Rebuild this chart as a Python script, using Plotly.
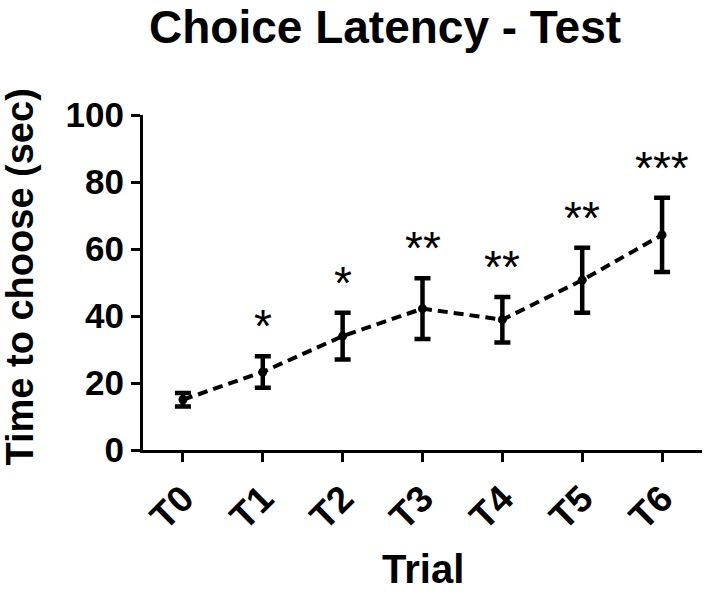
import plotly.graph_objects as go

trials = ["T0", "T1", "T2", "T3", "T4", "T5", "T6"]
mean_latency = [15.0, 23.3, 34.0, 42.2, 38.9, 50.7, 64.2]
sem_latency = [2.0, 4.7, 7.0, 9.1, 6.8, 9.7, 11.1]
significance = ["", "*", "*", "**", "**", "**", "***"]
y_ticks = [0, 20, 40, 60, 80, 100]

FONT = "Liberation Sans, Arial, sans-serif"

fig = go.Figure()
fig.add_trace(go.Scatter(
    x=trials, y=mean_latency,
    mode="lines+markers",
    line=dict(color="black", width=4, dash="10px,6px"),
    marker=dict(color="black", size=9),
    error_y=dict(type="data", array=sem_latency, visible=True,
                 color="black", thickness=4.5, width=8),
    showlegend=False,
))

for t, m, s, sig in zip(trials, mean_latency, sem_latency, significance):
    if sig:
        fig.add_annotation(x=t, y=m + s, text=sig, showarrow=False,
                           yanchor="middle", yshift=30,
                           font=dict(family=FONT, size=46, color="black"))

fig.add_annotation(text="Choice Latency - Test", xref="paper", yref="paper",
                   x=(385 - 143) / (702 - 143), y=1.0, yshift=88,
                   xanchor="center", yanchor="middle", showarrow=False,
                   font=dict(family=FONT, size=46, color="black", weight="bold"))
fig.add_annotation(text="Time to choose (sec)", xref="paper", yref="paper",
                   x=0, xshift=-124, y=0.5, yshift=5, textangle=-90,
                   xanchor="center", yanchor="middle", showarrow=False,
                   font=dict(family=FONT, size=38, color="black", weight="bold"))
fig.add_annotation(text="Trial", xref="paper", yref="paper",
                   x=0.5, y=0, yshift=-119,
                   xanchor="center", yanchor="middle", showarrow=False,
                   font=dict(family=FONT, size=40, color="black", weight="bold"))

fig.update_layout(
    width=708, height=596,
    margin=dict(l=143, r=6, t=115, b=146, autoexpand=False),
    plot_bgcolor="white", paper_bgcolor="white",
    xaxis=dict(range=[-0.5, 6.5], showline=True, linecolor="black", linewidth=3,
               ticks="outside", ticklen=9, tickwidth=3, tickcolor="black",
               tickangle=-45, showgrid=False, zeroline=False,
               tickfont=dict(family=FONT, size=37, color="black", weight="bold")),
    yaxis=dict(range=[0, 100], tickvals=y_ticks, showline=True, linecolor="black",
               linewidth=3, ticks="outside", ticklen=9, tickwidth=3, tickcolor="black",
               showgrid=False, zeroline=False,
               tickfont=dict(family=FONT, size=35, color="black", weight="bold")),
)

fig.write_html("out.html", config={"displayModeBar": False},
               post_script="document.body.style.margin='0px';document.body.style.overflow='hidden';")
